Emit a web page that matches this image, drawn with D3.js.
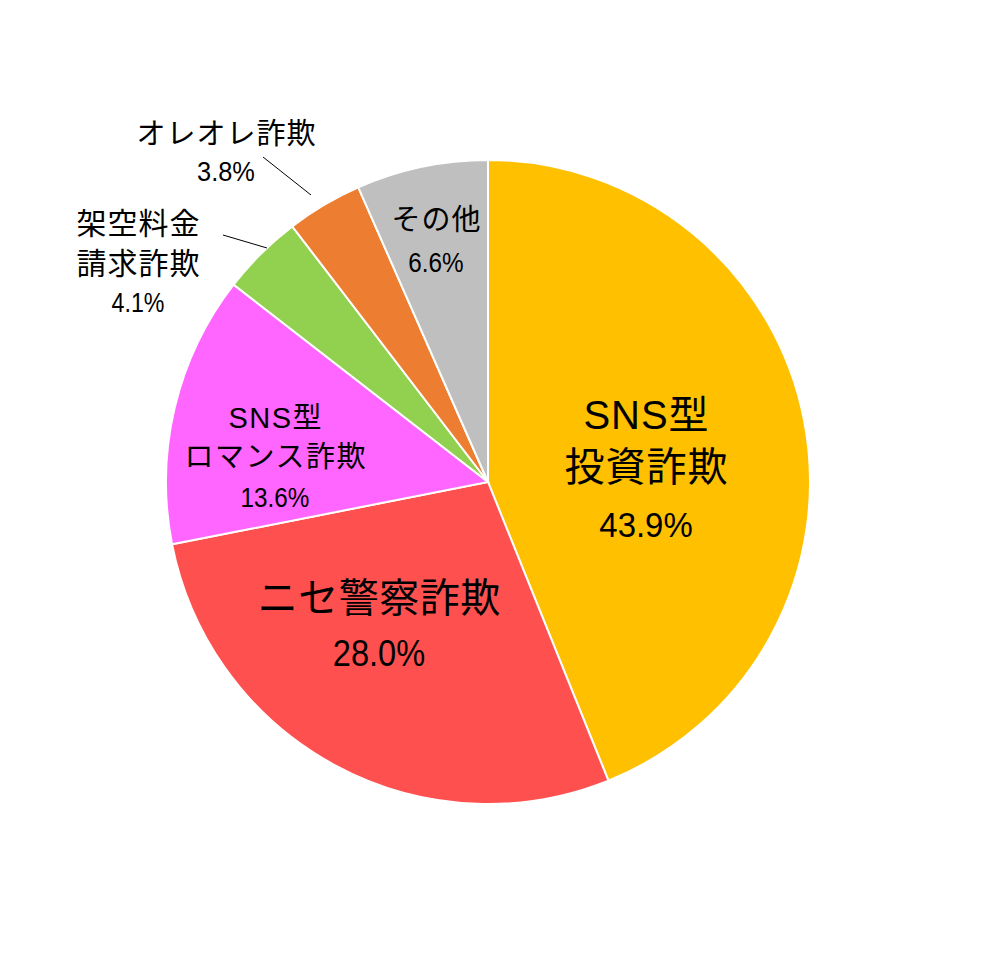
<!DOCTYPE html>
<html><head><meta charset="utf-8">
<script src="https://cdn.jsdelivr.net/npm/d3@7"></script>
<style>
html,body{margin:0;padding:0;background:#fff;}
text{font-family:"Liberation Sans","Noto Sans CJK JP",sans-serif;fill:#000;}
</style></head>
<body>
<svg id="chart" width="1000" height="970"></svg>
<script>
// ---- data ----
const categories = ["SNS型投資詐欺","ニセ警察詐欺","SNS型ロマンス詐欺","架空料金請求詐欺","オレオレ詐欺","その他"];
const values = [43.9, 28.0, 13.6, 4.1, 3.8, 6.6];
const labelLines = [["SNS型","投資詐欺"],["ニセ警察詐欺"],["SNS型","ロマンス詐欺"],["架空料金","請求詐欺"],["オレオレ詐欺"],["その他"]];
const percentLabels = ["43.9%","28.0%","13.6%","4.1%","3.8%","6.6%"];
const colors = ["#FFC000","#FF5050","#FF66FF","#92D050","#ED7D31","#BFBFBF"];

// ---- layout (relative to pie centre) ----
const cx = 488, cy = 482, R = 322;
const labelLayout = [
  {x:158, lineY:[-67,-15.5], pY:42.5, size:40, ls:1, pSize:35, sx:0.94},
  {x:-109, lineY:[115.5], pY:170.5, size:40, ls:0.5, pSize:37, sx:0.88},
  {x:-213, lineY:[-64.5,-25.5], pY:16, size:29, ls:1.5, pSize:27, sx:0.9},
  {x:-350, lineY:[-258.5,-218.5], pY:-180, size:30, ls:1, pSize:27, sx:0.86},
  {x:-262, lineY:[-348.5], pY:-310, size:29, ls:1, pSize:27, sx:0.94},
  {x:-52,  lineY:[-262], pY:-219, size:29, ls:1, pSize:27, sx:0.9}
];
const leaders = [null,null,null,
  {from:[-265,-247], to:[-221,-234]},
  {from:[-225,-325], to:[-177,-287]},
  null];

const svg = d3.select("#chart");
const g = svg.append("g").attr("transform",`translate(${cx},${cy})`);

const pie = d3.pie().sort(null).value(d=>d);
const arc = d3.arc().innerRadius(0).outerRadius(R);
const arcs = pie(values);

g.selectAll("path.slice").data(arcs).enter().append("path")
  .attr("class","slice")
  .attr("d",arc)
  .attr("fill",(d,i)=>colors[i])
  .attr("stroke","#fff")
  .attr("stroke-width",2);

// leader lines
leaders.forEach(l=>{
  if(!l) return;
  g.append("line").attr("x1",l.from[0]).attr("y1",l.from[1])
    .attr("x2",l.to[0]).attr("y2",l.to[1])
    .attr("stroke","#000").attr("stroke-width",1);
});

// labels
arcs.forEach((a,i)=>{
  const L = labelLayout[i];
  labelLines[i].forEach((t,k)=>{
    g.append("text").attr("x",L.x + L.ls/2).attr("y",L.lineY[k])
      .attr("text-anchor","middle")
      .attr("dominant-baseline","central")
      .style("font-size",L.size+"px")
      .style("letter-spacing",L.ls+"px")
      .text(t);
  });
  g.append("text")
    .attr("transform",`translate(${L.x},${L.pY}) scale(${L.sx},1)`)
    .attr("text-anchor","middle")
    .attr("dominant-baseline","central")
    .style("font-size",L.pSize+"px")
    .text(percentLabels[i]);
});
</script>
</body></html>
